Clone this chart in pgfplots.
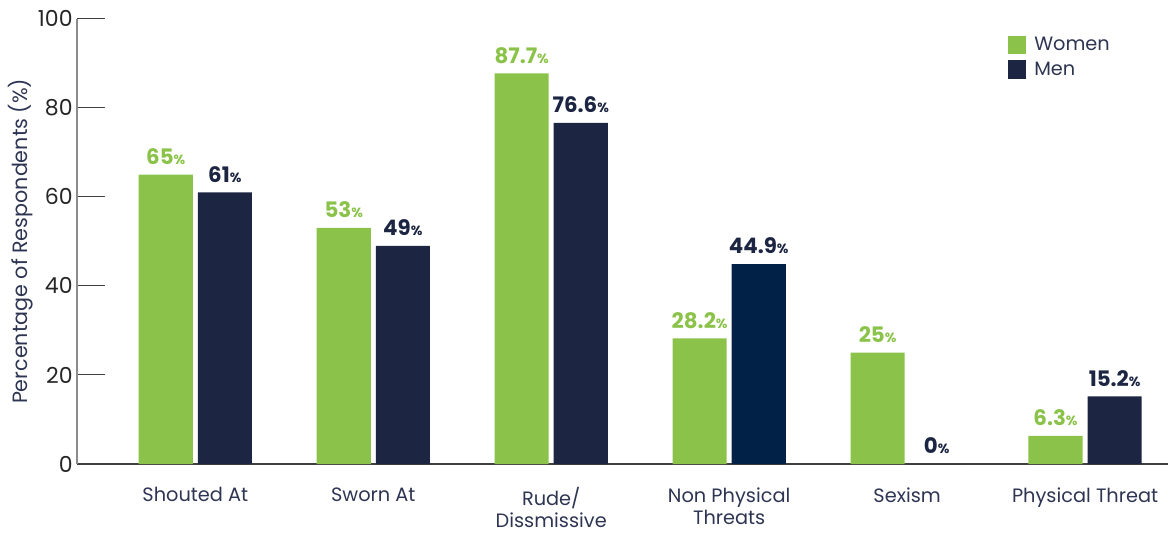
\documentclass[border=0pt]{standalone}
\usepackage{fontspec}
\setmainfont{Poppins}
\usepackage{pgfplots}
\pgfplotsset{compat=1.18}
\definecolor{wgreen}{HTML}{8BC34A}
\definecolor{mnavy}{HTML}{1C2541}
\definecolor{mnavytwo}{HTML}{012147}
\definecolor{txt}{HTML}{2E3552}
\begin{document}
\begin{tikzpicture}
\begin{axis}[
  name=ax,
  scale only axis,
  width=818pt, height=334pt,
  ybar,
  bar width=0.304,
  xmin=-0.663, xmax=5.466,
  ymin=0, ymax=100,
  ytick={0,20,...,100},
  xtick={0,...,5},
  xticklabels={Shouted At, Sworn At, {Rude/\\Dissmissive}, {Non Physical\\Threats}, Sexism, Physical Threat},
  axis x line=bottom, axis y line=left,
  x axis line style={-, draw=black!75, line width=0.9pt},
  y axis line style={-, draw=black!45, line width=1.3pt},
  ytick align=inside,
  major tick length=21pt,
  ytick style={draw=black!75, line width=0.8pt},
  xtick style={draw=none},
  yticklabel style={font=\fontsize{16.5}{16.5}\selectfont, color=black!85},
  xticklabel style={font=\fontsize{14.5}{16.5}\selectfont, color=txt, align=center, anchor=north, inner sep=1pt, yshift=-6pt},
  ylabel={Percentage of Respondents (\%)},
  ylabel style={font=\fontsize{15.5}{16}\selectfont, color=txt, yshift=-3pt},
  /pgf/number format/assume math mode=true,
  nodes near coords={\textbf{\pgfmathprintnumber{\pgfplotspointmeta}}{\fontsize{10}{10}\selectfont\textbf{\%}}},
  every node near coord/.append style={font=\fontsize{16}{16}\selectfont, yshift=4pt},
  legend style={at={(0.953,0.971)}, anchor=north east, draw=none, fill=none,
    font=\fontsize{14.5}{15}\selectfont, text=txt, row sep=3pt,
    /tikz/every odd column/.append style={column sep=4pt}},
  legend image code/.code={\fill[#1] (0pt,-7pt) rectangle (14pt,7pt);},
  legend cell align=left,
]
\addplot[fill=wgreen, draw=none, bar shift=-0.166, every node near coord/.append style={color=wgreen}]
  coordinates {(0,65) (1,53) (2,87.7) (3,28.2) (4,25) (5,6.3)};
\addlegendentry{Women}
\addplot[fill=mnavy, draw=none, bar shift=0.166, every node near coord/.append style={color=mnavy}]
  coordinates {(0,61) (1,49) (2,76.6) (3,44.9) (4,0) (5,15.2)};
\addlegendentry{Men}
\addplot[fill=mnavytwo, draw=none, bar shift=0.166, nodes near coords={}, forget plot]
  coordinates {(3,44.9)};
\end{axis}
\pgfresetboundingbox
\path[use as bounding box] ([xshift=-58pt,yshift=-52pt]ax.south west) rectangle ([yshift=14pt]ax.north east);
\end{tikzpicture}
\end{document}
